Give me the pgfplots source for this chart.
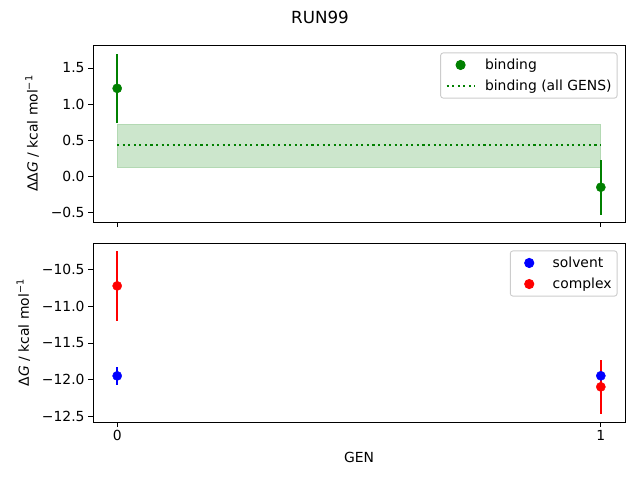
\documentclass[border=0pt]{standalone}
\usepackage{pgfplots}
\pgfplotsset{compat=1.18}
\usepackage{fontspec}
\setmainfont{DejaVu Sans}
\definecolor{mplgreen}{HTML}{008000}
\definecolor{bandfill}{HTML}{CCE6CC}
\definecolor{bandedge}{HTML}{B3D9B3}
\definecolor{legedge}{HTML}{CCCCCC}
\pgfplotsset{
  runstyle/.style={
    scale only axis,
    width=532bp,
    xmin=-0.05, xmax=1.05,
    xtick={0,1},
    axis line style={line width=0.9bp},
    tick style={line width=0.9bp, black},
    tick align=outside,
    major tick length=4.9bp,
    xtick pos=bottom, ytick pos=left,
    tick label style={font=\fontsize{13.9bp}{16bp}\selectfont},
    label style={font=\fontsize{13.9bp}{16bp}\selectfont},
    ylabel shift=5bp,
    xlabel shift=4bp,
    legend cell align=left,
    legend style={
      at={(1,1)}, anchor=north east, xshift=-7.5bp, yshift=-7.5bp,
      draw=legedge, rounded corners=2.5bp, line width=0.9bp,
      fill=white,
      font=\fontsize{13.9bp}{16bp}\selectfont,
      inner xsep=5bp, inner ysep=5.5bp, row sep=8bp,
      nodes={inner sep=0.5bp},
      /tikz/every odd column/.append style={column sep=9bp},
    },
    legend image code/.code={
      \path[draw=none, fill=none] (0bp,0bp) (27.8bp,0bp);
      \draw[mark repeat=2,mark phase=2,#1]
        plot coordinates {(0bp,0bp) (13.9bp,0bp) (27.8bp,0bp)};
    },
    error bars/error bar style={line width=2.1bp},
    error bars/error mark=none,
  },
}
\begin{document}
\begin{tikzpicture}
\path[use as bounding box] (0bp,0bp) rectangle (640bp,480bp);
\node[font=\fontsize{16.7bp}{19bp}\selectfont] at (320bp,463bp) {RUN99};

% top panel: binding free energy
\begin{axis}[
  runstyle,
  at={(93bp,258bp)}, anchor=south west,
  height=177bp,
  ymin=-0.635, ymax=1.819,
  xticklabels={},
  ytick={-0.5,0,0.5,1,1.5},
  yticklabels={−0.5,0.0,0.5,1.0,1.5},
  ylabel={ΔΔ\textit{G} / kcal mol\textsuperscript{−1}},
]
\addplot[draw=bandedge, line width=1bp, fill=bandfill, forget plot]
  coordinates {(0,0.12) (1,0.12) (1,0.722) (0,0.722)} -- cycle;
\addplot[only marks, mark=*, mark size=4.6bp, color=mplgreen,
  mark options={draw=none, fill=mplgreen},
  error bars/.cd, y dir=both, y explicit]
  coordinates {(0,1.218) +- (0,0.48) (1,-0.153) +- (0,0.38)};
\addlegendentry{binding}
\addplot[color=mplgreen, line width=2.1bp,
  dash pattern=on 2.1bp off 3.45bp]
  coordinates {(0,0.431) (1,0.431)};
\addlegendentry{binding (all GENS)}
\end{axis}

% bottom panel: solvent and complex
\begin{axis}[
  runstyle,
  at={(93bp,58bp)}, anchor=south west,
  height=179bp,
  ymin=-12.572, ymax=-10.143,
  xticklabels={0,1},
  xlabel={GEN},
  ytick={-12.5,-12,-11.5,-11,-10.5},
  yticklabels={−12.5,−12.0,−11.5,−11.0,−10.5},
  ylabel={Δ\textit{G} / kcal mol\textsuperscript{−1}},
]
\addplot[only marks, mark=*, mark size=4.6bp, color=blue,
  mark options={draw=none, fill=blue},
  error bars/.cd, y dir=both, y explicit]
  coordinates {(0,-11.946) +- (0,0.125) (1,-11.945) +- (0,0.03)};
\addlegendentry{solvent}
\addplot[only marks, mark=*, mark size=4.6bp, color=red,
  mark options={draw=none, fill=red},
  error bars/.cd, y dir=both, y explicit]
  coordinates {(0,-10.725) +- (0,0.47) (1,-12.095) +- (0,0.37)};
\addlegendentry{complex}
\end{axis}
\end{tikzpicture}
\end{document}
